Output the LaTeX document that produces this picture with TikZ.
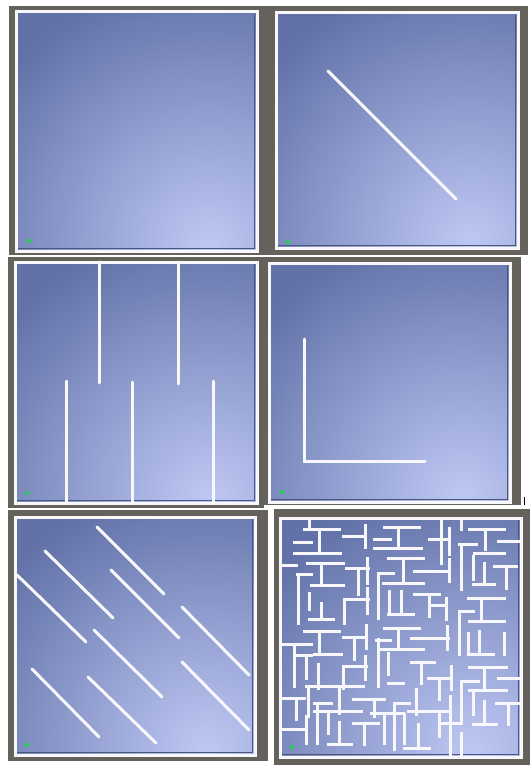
\documentclass[tikz,border=0pt]{standalone}
\usepackage{tikz}

\definecolor{framegray}{RGB}{100,98,90}
\definecolor{floordark}{RGB}{98,114,168}
\definecolor{floorlight}{RGB}{190,200,244}
\definecolor{wallwhite}{RGB}{248,248,252}
\definecolor{startgreen}{RGB}{40,205,90}

\begin{document}
\begin{tikzpicture}[
  x=1pt, y=-1pt,
  panelframe/.style={fill=framegray},
  panelborder/.style={draw=wallwhite, line width=3pt},
  floorrim/.style={draw=floordark!75!black, line width=1.5pt},
  wall/.style={draw=wallwhite, line width=3pt, line cap=round},
  mazewall/.style={draw=wallwhite, line width=3pt, line cap=rect},
  startdot/.style={fill=startgreen}
]
\useasboundingbox[fill=white] (0,0) rectangle (530,767);

% six arenas: dark frame, floor, white outer wall
\foreach \fx/\fy/\gx/\gy/\ax/\ay/\bx/\by in {
    9/6/267/255/16/12/257/251,
    267/6/528/255/276/13/518/248,
    8/257/264/508/15/262/257/503,
    263/257/521/505/269/263/510/502,
    8/510/268/761/15/517/255/755,
    274/509/530/765/280/518/521/757}{
  \fill[panelframe] (\fx,\fy) rectangle (\gx,\gy);
  \begin{scope}
    \clip (\ax,\ay) rectangle (\bx,\by);
    \fill[floordark] (\ax,\ay) rectangle (\bx,\by);
    \shade[inner color=floorlight, outer color=floordark]
      ({\ax+0.8*(\bx-\ax)},{\by-6}) circle (265);
  \end{scope}
  \draw[floorrim] ({\ax+2},{\by-2.5}) -- ({\bx-2.5},{\by-2.5}) -- ({\bx-2.5},{\ay+2});
  \draw[panelborder] (\ax,\ay) rectangle (\bx,\by);
}
\draw[line width=1pt] (524,497) -- (524,505);

% arena 2: one diagonal wall
\draw[wall] (328,71) -- (456,199);

% arena 3: comb of walls
\foreach \x/\ya/\yb in {99/262/383, 178/262/384, 66/381/503, 132/382/503, 213/381/503}
  \draw[wall] (\x,\ya) -- (\x,\yb);

% arena 4: L wall
\draw[wall] (304,339) -- (304,461) -- (425,461);

% arena 5: parallel diagonals
\foreach \xa/\ya/\xb/\yb in {97/527/164/594, 45/551/113/618, 17/575/86/642,
    111/570/179/638, 182/607/249/675, 94/630/162/697,
    182/662/249/730, 32/669/99/737, 88/677/156/743}
  \draw[wall] (\xa,\ya) -- (\xb,\yb);

% arena 6: maze
\begin{scope}[shift={(270,505)}, scale=1/3]
\foreach \xa/\ya/\xb/\yb in {
    119/39/119/74, 102/72/209/72, 74/112/124/112, 149/72/149/144,
    72/144/212/144, 219/94/286/94, 286/60/286/126, 344/66/449/66,
    385/66/385/130, 314/104/360/104, 314/131/454/131, 514/39/514/174,
    479/104/534/104, 539/69/539/149, 574/39/574/74, 599/74/704/74,
    647/74/647/134, 569/119/619/119, 574/119/574/254, 614/144/704/144,
    684/109/748/109,
    34/182/79/182, 112/174/219/174, 154/174/154/239, 124/242/219/242,
    82/209/124/209, 86/209/86/354, 119/264/119/314, 119/344/189/344,
    154/294/154/344, 229/189/294/189, 264/189/264/269, 292/159/292/234,
    224/282/294/282, 224/282/224/354, 292/249/292/324, 354/160/459/160,
    399/160/399/234, 324/204/369/204, 324/204/324/339, 340/234/459/234,
    359/259/359/324, 354/329/429/329, 394/259/394/329, 434/199/539/199,
    539/164/539/229, 434/269/509/269, 479/269/479/334, 479/302/529/302,
    529/279/529/344, 609/154/609/224, 644/174/644/239, 609/239/674/239,
    674/184/739/184, 709/184/709/249, 594/279/704/279, 634/279/634/344,
    599/349/704/349, 569/319/609/319, 569/319/569/449,
    104/379/209/379, 149/379/149/444, 134/449/214/449, 39/419/124/419,
    74/419/74/544, 79/452/124/452, 109/454/109/519, 219/396/289/396,
    254/396/254/464, 288/360/288/430, 219/484/289/484, 219/484/219/549,
    286/454/286/524, 146/479/146/549, 109/544/279/544, 344/369/449/369,
    384/369/384/432, 324/432/459/432, 320/405/360/405, 324/404/324/544,
    354/444/354/509, 354/534/399/534, 424/399/534/399, 532/365/532/434,
    594/384/594/444, 629/380/629/444, 594/449/669/449, 704/384/704/449,
    424/472/494/472, 454/472/454/534, 474/519/539/519, 509/519/509/584,
    544/484/544/554, 599/487/709/487, 644/487/644/554, 599/556/709/556,
    574/529/624/529, 574/529/574/654, 684/519/748/519,
    39/579/104/579, 79/579/79/644, 109/634/109/714, 39/674/104/674,
    114/544/114/634, 134/594/184/594, 142/594/142/714, 174/624/174/684,
    134/619/274/619, 209/554/209/624, 249/584/344/584, 314/584/314/634,
    249/654/324/654, 284/654/284/719, 344/634/344/714, 174/719/244/719,
    209/652/209/719, 304/624/399/624, 374/596/399/596, 374/596/374/734,
    384/594/419/594, 439/554/439/629, 414/620/539/620, 404/629/404/714,
    444/659/444/724, 404/729/479/729, 509/624/509/694, 509/654/574/654,
    542/574/542/754, 574/684/574/754, 609/564/609/629, 642/589/642/659,
    609/659/679/659, 679/596/744/596, 714/596/714/659}
  \draw[mazewall] (\xa,\ya) -- (\xb,\yb);
\end{scope}

% start markers
\foreach \x/\y in {29/241, 288/242, 27/493, 282/492, 27/745, 292/747}
  \fill[startdot] (\x,\y) circle (2.2);
\end{tikzpicture}
\end{document}
